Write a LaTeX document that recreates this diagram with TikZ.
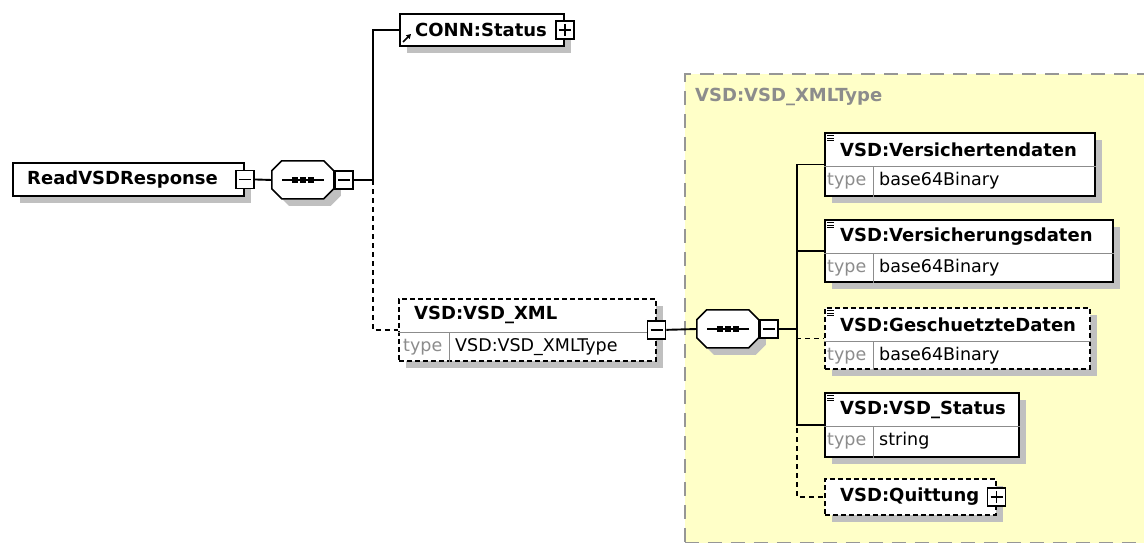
\documentclass[tikz,border=0pt]{standalone}
\usepackage{fontspec}
\setsansfont{DejaVu Sans}
\usetikzlibrary{positioning,shadows,arrows.meta}

\definecolor{xsdyellow}{RGB}{255,255,200}
\definecolor{xsdshadow}{RGB}{192,192,192}
\definecolor{xsdgray}{RGB}{140,140,140}
\definecolor{xsdframe}{RGB}{150,150,150}

\tikzset{
  elem/.style={draw, line width=1.9pt, fill=white, anchor=north west, inner sep=0pt,
    drop shadow={shadow xshift=7pt, shadow yshift=-7pt, fill=xsdshadow, opacity=1}},
  optelem/.style={elem, line width=1.7pt, dash pattern=on 5pt off 3pt},
  seqbox/.style={minimum width=62, minimum height=38, inner sep=0pt},
  octline/.style={fill=white, line width=1.6pt},
  pmbox/.style={draw, line width=1.5pt, fill=white, minimum size=18, inner sep=0pt},
  minus/.style={pmbox, path picture={\draw[line width=1.3pt]
    ([xshift=3pt]path picture bounding box.west) -- ([xshift=-3pt]path picture bounding box.east);}},
  plus/.style={pmbox, path picture={\draw[line width=1.3pt]
    ([xshift=3pt]path picture bounding box.west) -- ([xshift=-3pt]path picture bounding box.east)
    ([yshift=-3pt]path picture bounding box.north) -- ([yshift=3pt]path picture bounding box.south);}},
  elname/.style={anchor=west, inner sep=0pt, font=\sffamily\bfseries\fontsize{18}{20}\selectfont},
  typelbl/.style={anchor=west, inner sep=0pt, text=xsdgray, font=\sffamily\fontsize{17.5}{20}\selectfont},
  typeval/.style={anchor=west, inner sep=0pt, font=\sffamily\fontsize{17.5}{20}\selectfont},
  divline/.style={draw=xsdgray, line width=0.9pt},
  conn/.style={line width=1.9pt},
  optconn/.style={line width=1.7pt, dash pattern=on 5pt off 4pt},
  typeframe/.style={draw=xsdframe, fill=xsdyellow, line width=1.6pt, dash pattern=on 14pt off 9pt,
    anchor=north west, inner sep=0pt}
}

\begin{document}
\begin{tikzpicture}[x=1pt, y=-1pt]
  \useasboundingbox[fill=white] (0,0) rectangle (1144,543);

  % complex type frame
  \node[typeframe, minimum width=470, minimum height=469] (xmlType) at (684,73) {};
  \node[elname, text=xsdgray] (xmlTypeName) at (695,97) {VSD:VSD\_XMLType};

  % root element
  \node[elem, minimum width=231, minimum height=33] (rvr) at (12,162) {};
  \node[elname] (rvrName) at ([xshift=15]rvr.west) {ReadVSDResponse};
  \node[minus] (rvrPm) at (rvr.east) {};

  % sequence compositors (octagons)
  \node[seqbox] (seq1) at (303,180) {};
  \node[seqbox] (seq2) at (728,329) {};
  \foreach \s in {seq1,seq2} {
    \fill[xsdshadow] ([xshift=17,yshift=-7]\s.north west) -- ++(42,0) -- ++(10,10) -- ++(0,18)
      -- ++(-10,10) -- ++(-42,0) -- ++(-10,-10) -- ++(0,-18) -- cycle;
    \filldraw[octline] ([xshift=10]\s.north west) -- ++(42,0) -- ++(10,10) -- ++(0,18)
      -- ++(-10,10) -- ++(-42,0) -- ++(-10,-10) -- ++(0,-18) -- cycle;
    \draw[line width=1.4pt] ([xshift=-21]\s.center) -- ([xshift=21]\s.center);
    \foreach \dx in {-8,0,8}
      \fill ([xshift=\dx pt]\s.center) +(-2.6,-2.6) rectangle +(2.6,2.6);
  }
  \node[minus, right=0pt of seq1] (seq1Pm) {};
  \node[minus, right=0pt of seq2] (seq2Pm) {};

  % CONN:Status (reference)
  \node[elem, minimum width=164, minimum height=32] (conn) at (399,13) {};
  \node[elname] (connName) at ([xshift=16]conn.west) {CONN:Status};
  \draw[line width=1.6pt, -{Triangle[length=4.5pt,width=5pt]}] ([xshift=4,yshift=-29]conn.north west) -- ++(8,-8);
  \node[plus] (connPm) at (conn.east) {};

  % VSD:VSD_XML
  \node[optelem, minimum width=257, minimum height=62] (xml) at (398,298) {};
  \draw[divline] ([yshift=-34]xml.north west) -- ([yshift=-34]xml.north east);
  \draw[divline] ([xshift=51,yshift=-34]xml.north west) -- ([xshift=51]xml.south west);
  \node[elname] (xmlName) at ([xshift=16,yshift=-17]xml.north west) {VSD:VSD\_XML};
  \node[typelbl] (xmlType1) at ([xshift=5,yshift=-49]xml.north west) {type};
  \node[typeval] (xmlVal) at ([xshift=57,yshift=-49]xml.north west) {VSD:VSD\_XMLType};
  \node[minus] (xmlPm) at (xml.east) {};

  % child elements
  \node[elem, minimum width=270, minimum height=63] (vdat) at (824,132) {};
  \node[elem, minimum width=288, minimum height=62] (vrdat) at (824,219) {};
  \node[optelem, minimum width=265, minimum height=61] (gdat) at (824,307) {};
  \node[elem, minimum width=194, minimum height=64] (vstat) at (824,392) {};
  \foreach \b/\n/\t in {vdat/VSD:Versichertendaten/base64Binary,
                        vrdat/VSD:Versicherungsdaten/base64Binary,
                        gdat/VSD:GeschuetzteDaten/base64Binary,
                        vstat/VSD:VSD\_Status/string} {
    \draw[divline] ([yshift=-34]\b.north west) -- ([yshift=-34]\b.north east);
    \draw[divline] ([xshift=49,yshift=-34]\b.north west) -- ([xshift=49]\b.south west);
    \foreach \dy in {3.5,6,8.5}
      \draw[line width=1pt] ([xshift=3,yshift=-\dy]\b.north west) -- ++(7,0);
    \node[elname] (\b Name) at ([xshift=16,yshift=-18]\b.north west) {\n};
    \node[typelbl] (\b Type) at ([xshift=3,yshift=-49]\b.north west) {type};
    \node[typeval] (\b Val) at ([xshift=55,yshift=-49]\b.north west) {\t};
  }
  \node[optelem, minimum width=171, minimum height=36] (quit) at (824,478) {};
  \node[elname] (quitName) at ([xshift=16]quit.west) {VSD:Quittung};
  \node[plus] (quitPm) at (quit.east) {};

  % connectors
  \draw[conn] (rvrPm.east) -- (seq1.west);
  \draw[conn] (seq1Pm.east) -- ++(19,0) coordinate (j1);
  \draw[optconn] (j1) |- (xml.west);
  \draw[conn] (j1) |- (conn.west);
  \draw[conn] (xmlPm.east) -- (seq2.west);
  \draw[conn] (seq2Pm.east) -- ++(18,0) coordinate (j2);
  \draw[optconn] (j2) |- (gdat.west);
  \draw[optconn] (j2) |- (quit.west);
  \draw[conn] (j2) |- (vdat.west);
  \draw[conn] (j2) |- (vrdat.west);
  \draw[conn] (j2) |- (vstat.west);
\end{tikzpicture}
\end{document}
